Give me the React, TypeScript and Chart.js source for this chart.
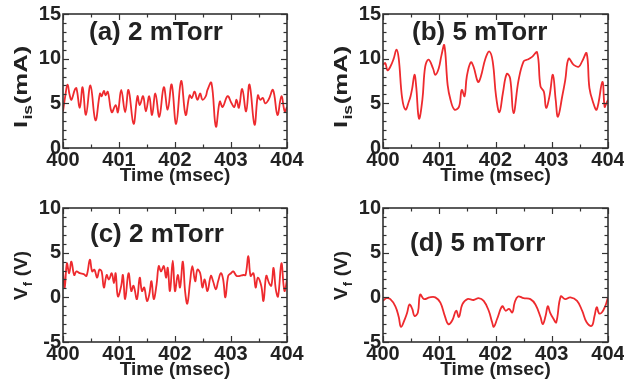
import React, { useEffect, useRef } from "react";
import { Chart, registerables } from "chart.js";
Chart.register(...registerables);

// ---- axis ranges / tick labels ----
const TIME_TICKS = [400, 401, 402, 403, 404];
const IIS_TICKS = [0, 5, 10, 15];
const VF_TICKS = [-5, 0, 5, 10];

// ---- (a) 2 mTorr, ion saturation current ----
const aTime = [400.0, 400.04, 400.08, 400.12, 400.15, 400.21, 400.24, 400.3, 400.35, 400.41, 400.49, 400.58, 400.66, 400.69, 400.73, 400.76, 400.8, 400.87, 400.94, 400.98, 401.04, 401.11, 401.17, 401.26, 401.33, 401.37, 401.43, 401.48, 401.54, 401.59, 401.65, 401.72, 401.8, 401.87, 401.94, 402.02, 402.11, 402.19, 402.26, 402.3, 402.35, 402.4, 402.45, 402.49, 402.55, 402.58, 402.65, 402.73, 402.8, 402.85, 402.94, 403.01, 403.06, 403.1, 403.14, 403.2, 403.27, 403.33, 403.42, 403.48, 403.52, 403.57, 403.61, 403.67, 403.75, 403.83, 403.9, 403.96, 404.0];
const aIis = [4.1, 5.8, 7.1, 5.9, 5.4, 6.5, 6.7, 4.5, 6.8, 3.7, 7.0, 3.1, 6.1, 5.8, 6.4, 5.9, 6.3, 4.0, 4.8, 4.0, 6.5, 4.0, 6.5, 2.7, 5.8, 4.8, 5.8, 4.1, 5.8, 3.7, 6.1, 3.5, 6.8, 4.3, 7.1, 2.7, 7.5, 3.7, 5.9, 5.6, 6.3, 5.4, 6.1, 5.4, 5.8, 6.5, 7.3, 2.4, 5.2, 4.6, 5.8, 5.0, 4.6, 5.4, 4.5, 6.6, 4.1, 7.1, 2.6, 5.9, 5.4, 5.6, 5.0, 5.4, 6.5, 3.7, 5.8, 4.1, 4.6];

// ---- (b) 5 mTorr, ion saturation current ----
const bTime = [400.0, 400.04, 400.08, 400.13, 400.19, 400.24, 400.28, 400.34, 400.4, 400.46, 400.49, 400.52, 400.56, 400.59, 400.64, 400.7, 400.75, 400.81, 400.89, 400.93, 400.99, 401.04, 401.09, 401.15, 401.2, 401.27, 401.35, 401.4, 401.45, 401.49, 401.56, 401.61, 401.69, 401.74, 401.82, 401.89, 401.95, 402.01, 402.07, 402.13, 402.2, 402.26, 402.32, 402.41, 402.5, 402.57, 402.65, 402.74, 402.8, 402.86, 402.9, 402.96, 403.02, 403.07, 403.11, 403.19, 403.24, 403.3, 403.39, 403.48, 403.54, 403.62, 403.67, 403.73, 403.8, 403.9, 403.94, 403.97, 404.0];
const bIis = [9.3, 9.5, 8.7, 9.1, 10.0, 11.0, 10.0, 5.6, 4.3, 5.2, 5.8, 6.7, 8.2, 6.9, 3.3, 5.4, 9.1, 9.9, 8.9, 8.2, 8.9, 10.4, 11.5, 7.0, 5.4, 4.3, 4.6, 6.5, 5.8, 8.0, 9.6, 9.1, 7.4, 8.0, 10.0, 10.8, 9.7, 5.8, 4.0, 6.1, 8.3, 7.8, 3.9, 7.6, 9.7, 9.9, 10.2, 10.7, 6.9, 6.3, 4.5, 5.8, 8.2, 5.4, 3.5, 5.9, 7.6, 10.0, 9.3, 9.1, 9.7, 10.6, 6.7, 5.2, 4.3, 7.4, 4.6, 5.0, 5.4];

// ---- (c) 2 mTorr, floating potential ----
const cTime = [400.0, 400.03, 400.07, 400.11, 400.15, 400.2, 400.24, 400.3, 400.37, 400.42, 400.48, 400.52, 400.56, 400.61, 400.65, 400.69, 400.73, 400.78, 400.82, 400.87, 400.91, 400.94, 400.98, 401.04, 401.07, 401.11, 401.17, 401.22, 401.26, 401.32, 401.37, 401.41, 401.45, 401.5, 401.54, 401.58, 401.62, 401.67, 401.71, 401.75, 401.8, 401.84, 401.87, 401.91, 401.96, 402.0, 402.05, 402.09, 402.14, 402.18, 402.22, 402.27, 402.31, 402.36, 402.4, 402.45, 402.49, 402.53, 402.58, 402.64, 402.68, 402.73, 402.77, 402.82, 402.86, 402.9, 402.95, 403.0, 403.04, 403.1, 403.16, 403.22, 403.26, 403.31, 403.35, 403.4, 403.44, 403.48, 403.54, 403.58, 403.63, 403.68, 403.72, 403.76, 403.8, 403.84, 403.9, 403.94, 403.96, 404.0];
const cVf = [2.9, 1.1, 3.8, 2.7, 4.0, 2.5, 2.9, 2.7, 2.6, 2.4, 4.2, 2.9, 3.1, 2.2, 3.1, 2.9, 1.1, 2.5, 2.0, 2.7, 1.6, 2.7, 0.1, 1.3, 2.5, -0.2, 2.7, 0.7, 1.3, -0.2, 2.2, 0.7, 1.1, -0.4, 0.3, 1.8, -0.2, 1.4, 3.5, 2.9, 3.5, 2.2, 3.3, 0.7, 4.1, 0.7, 2.5, 1.1, 4.0, 0.7, -0.7, 1.8, 3.5, 1.8, 3.1, 2.7, 1.1, 2.0, 0.7, 2.4, 1.8, 0.9, 1.8, 2.7, 2.0, 0.0, 2.4, 2.7, 2.9, 2.4, 2.4, 2.5, 2.5, 4.6, 2.4, 2.7, 1.1, 2.2, 1.3, -0.4, 2.4, 1.6, 1.3, 3.3, 0.9, 0.1, 3.8, 1.3, 0.7, 2.0];

// ---- (d) 5 mTorr, floating potential ----
const dTime = [400.0, 400.06, 400.13, 400.22, 400.28, 400.32, 400.39, 400.43, 400.47, 400.52, 400.56, 400.62, 400.66, 400.73, 400.83, 400.93, 401.02, 401.1, 401.16, 401.23, 401.3, 401.35, 401.41, 401.5, 401.61, 401.7, 401.79, 401.88, 401.94, 401.97, 402.03, 402.12, 402.18, 402.24, 402.3, 402.34, 402.4, 402.5, 402.62, 402.71, 402.8, 402.84, 402.89, 402.93, 402.97, 403.03, 403.08, 403.16, 403.24, 403.33, 403.45, 403.54, 403.62, 403.71, 403.76, 403.8, 403.84, 403.89, 403.95, 404.0];
const dVf = [-0.4, -0.1, -0.2, -1.0, -2.2, -3.3, -2.4, -1.7, -0.8, -1.3, -2.1, -1.7, 0.3, -0.2, 0.0, 0.0, -0.6, -2.1, -3.0, -2.6, -1.5, -2.2, -0.8, -0.2, -0.3, -0.1, -0.4, -1.5, -2.8, -3.3, -2.4, -1.0, -1.5, -1.3, -1.7, -0.6, 0.1, -0.1, -0.2, -0.8, -2.2, -3.0, -2.1, -1.0, -1.7, -2.4, -2.8, 0.1, -0.2, 0.0, -0.4, -1.5, -2.8, -3.2, -2.1, -1.1, -1.8, -1.7, -1.0, 0.0];

const FONT = '"Liberation Sans", Arial, Helvetica, sans-serif';
const TEXT = "#222";
const RED = "#ee2a2e";
const CW = 330;
const CH = 195;

type PanelProps = {
  left: number;
  top: number;
  plotLeft: number;
  plotTop: number;
  plotRight: number;
  plotBottom: number;
  times: number[];
  values: number[];
  yTicks: number[];
  label: string;
  labelDx: number;
  labelDy: number;
  yMain: string;
  ySub: string;
  yRest: string;
  yStartDy: number;
  yStretch: number;
};

const decorPlugin = {
  id: "decor",
  afterDraw(chart: any, _args: any, opts: any) {
    const { ctx, chartArea, scales } = chart;
    const { left, right, top, bottom } = chartArea;
    const x = scales.x;
    const y = scales.y;
    ctx.save();
    // tick marks (inside, all four sides)
    ctx.strokeStyle = "#333";
    ctx.lineWidth = 1.2;
    const line = (x1: number, y1: number, x2: number, y2: number) => {
      ctx.beginPath();
      ctx.moveTo(x1, y1);
      ctx.lineTo(x2, y2);
      ctx.stroke();
    };
    for (let k = 0; k <= (x.max - x.min) * 2 + 1e-6; k++) {
      const v = x.min + k * 0.5;
      const major = k % 2 === 0;
      const len = major ? 6 : 3.5;
      const px = Math.round(x.getPixelForValue(v)) + 0.5;
      line(px, bottom, px, bottom - len);
      line(px, top, px, top + len);
    }
    for (let k = 0; k <= y.max - y.min + 1e-6; k++) {
      const v = y.min + k;
      const major = k % 5 === 0;
      const len = major ? 6 : 3.5;
      const py = Math.round(y.getPixelForValue(v)) + 0.5;
      line(left, py, left + len, py);
      line(right, py, right - len, py);
    }
    // frame
    ctx.lineWidth = 1.6;
    ctx.strokeRect(left, top, right - left, bottom - top);

    ctx.fillStyle = TEXT;
    // x title
    ctx.font = `bold 19px ${FONT}`;
    ctx.textAlign = "center";
    ctx.textBaseline = "middle";
    ctx.fillText("Time (msec)", (left + right) / 2, bottom + 28);

    // panel label
    ctx.font = `bold 26px ${FONT}`;
    ctx.textAlign = "left";
    ctx.textBaseline = "alphabetic";
    ctx.fillText(opts.label, left + opts.labelDx, top + opts.labelDy);

    // y title with subscript
    ctx.save();
    ctx.translate(left - 36, bottom - opts.yStartDy);
    ctx.rotate(-Math.PI / 2);
    ctx.scale(opts.yStretch, 1);
    ctx.textAlign = "left";
    ctx.textBaseline = "alphabetic";
    ctx.font = `bold 19px ${FONT}`;
    ctx.fillText(opts.yMain, 0, 0);
    let w = ctx.measureText(opts.yMain).width + 1;
    ctx.font = `bold 13px ${FONT}`;
    ctx.fillText(opts.ySub, w, 5);
    w += ctx.measureText(opts.ySub).width + 0.5;
    ctx.font = `bold 19px ${FONT}`;
    ctx.fillText(opts.yRest, w, 0);
    ctx.restore();

    ctx.restore();
  },
};

function Panel(p: PanelProps) {
  const ref = useRef<HTMLCanvasElement>(null);
  useEffect(() => {
    const canvas = ref.current!;
    const yw = p.plotLeft - p.left;
    const padTop = p.plotTop - p.top;
    const padRight = p.left + CW - p.plotRight;
    const xh = p.top + CH - p.plotBottom;
    const chart = new Chart(canvas, {
      type: "line",
      data: {
        datasets: [
          {
            data: p.times.map((t, i) => ({ x: t, y: p.values[i] })),
            borderColor: RED,
            borderWidth: 1.8,
            pointRadius: 0,
            tension: 0.4,
            fill: false,
          },
        ],
      },
      options: {
        animation: false,
        responsive: false,
        events: [],
        layout: { padding: { left: 0, right: padRight, top: padTop, bottom: 0 } },
        plugins: {
          legend: { display: false },
          tooltip: { enabled: false },
          decor: {
            label: p.label,
            labelDx: p.labelDx,
            labelDy: p.labelDy,
            yMain: p.yMain,
            ySub: p.ySub,
            yRest: p.yRest,
            yStartDy: p.yStartDy,
            yStretch: p.yStretch,
          },
        } as any,
        scales: {
          x: {
            type: "linear",
            min: TIME_TICKS[0],
            max: TIME_TICKS[TIME_TICKS.length - 1],
            grid: { display: false, drawTicks: false },
            border: { display: false },
            ticks: {
              stepSize: 1,
              autoSkip: false,
              maxRotation: 0,
              padding: 0,
              color: TEXT,
              font: { family: FONT, size: 20, weight: "bold" },
            },
            afterFit: (s: any) => {
              s.height = xh;
            },
          },
          y: {
            type: "linear",
            min: p.yTicks[0],
            max: p.yTicks[p.yTicks.length - 1],
            grid: { display: false, drawTicks: false },
            border: { display: false },
            ticks: {
              stepSize: p.yTicks[1] - p.yTicks[0],
              padding: 2,
              color: TEXT,
              font: { family: FONT, size: 20, weight: "bold" },
            },
            afterFit: (s: any) => {
              s.width = yw;
            },
          },
        },
      },
      plugins: [decorPlugin],
    } as any);
    return () => chart.destroy();
  }, []);
  return (
    <canvas
      ref={ref}
      width={CW}
      height={CH}
      style={{ position: "absolute", left: p.left, top: p.top, width: CW, height: CH }}
    />
  );
}

export default function App() {
  return (
    <div
      style={{
        position: "absolute",
        left: 0,
        top: 0,
        width: 624,
        height: 389,
        overflow: "hidden",
        background: "#fff",
      }}
    >
      <Panel
        left={0}
        top={0}
        plotLeft={63}
        plotTop={14}
        plotRight={287}
        plotBottom={148}
        times={aTime}
        values={aIis}
        yTicks={IIS_TICKS}
        label="(a) 2 mTorr"
        labelDx={26}
        labelDy={26}
        yMain="I"
        ySub="is"
        yRest="(mA)"
        yStartDy={20}
        yStretch={1.35}
      />
      <Panel
        left={312}
        top={0}
        plotLeft={383}
        plotTop={14}
        plotRight={608}
        plotBottom={148}
        times={bTime}
        values={bIis}
        yTicks={IIS_TICKS}
        label="(b) 5 mTorr"
        labelDx={29}
        labelDy={26}
        yMain="I"
        ySub="is"
        yRest="(mA)"
        yStartDy={20}
        yStretch={1.35}
      />
      <Panel
        left={0}
        top={194}
        plotLeft={63}
        plotTop={206}
        plotRight={287}
        plotBottom={342}
        times={cTime}
        values={cVf}
        yTicks={VF_TICKS}
        label="(c) 2 mTorr"
        labelDx={27}
        labelDy={34}
        yMain="V"
        ySub="f"
        yRest=" (V)"
        yStartDy={42}
        yStretch={1}
      />
      <Panel
        left={312}
        top={194}
        plotLeft={383}
        plotTop={206}
        plotRight={608}
        plotBottom={342}
        times={dTime}
        values={dVf}
        yTicks={VF_TICKS}
        label="(d) 5 mTorr"
        labelDx={27}
        labelDy={43}
        yMain="V"
        ySub="f"
        yRest=" (V)"
        yStartDy={42}
        yStretch={1}
      />
    </div>
  );
}
